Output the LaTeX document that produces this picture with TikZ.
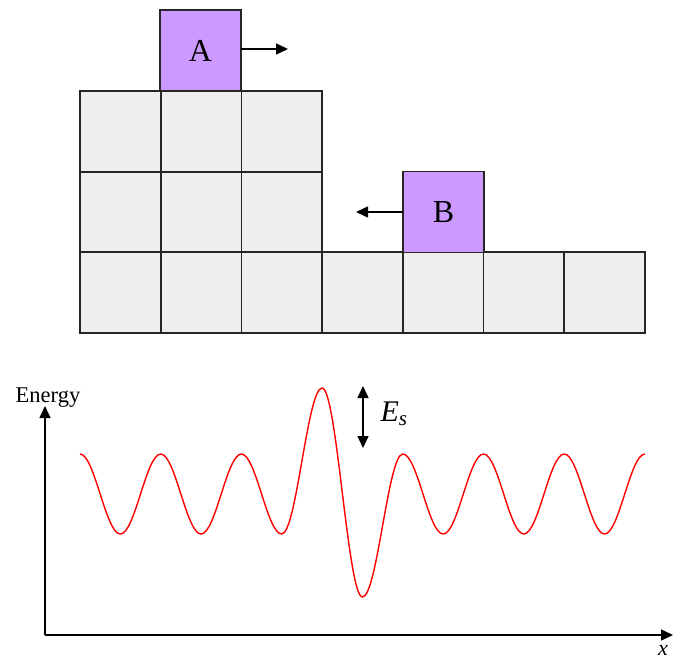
\documentclass[tikz,border=0pt]{standalone}
\usepackage{fontspec}
\setmainfont{Liberation Serif}
\usetikzlibrary{arrows.meta}
\definecolor{cellgray}{HTML}{EEEEEE}
\definecolor{atompurple}{HTML}{CC99FF}
\tikzset{
  cell/.style={fill=cellgray, minimum width=80.7pt, minimum height=80.7pt, inner sep=0pt, outer sep=0pt},
  atom/.style={cell, draw=black!85, line width=1.6pt, fill=atompurple, font=\fontsize{32}{36}\selectfont},
  gridline/.style={draw=black!85, line width=1.6pt},
  movearrow/.style={line width=1.5pt, -{Triangle[length=12pt,width=11pt]}},
  axis/.style={line width=1.5pt, -{Triangle[length=12pt,width=11pt]}},
  wave/.style={red, line width=1.4pt},
}
\begin{document}
\begin{tikzpicture}[x=1pt,y=-1pt]
\useasboundingbox (0,0) rectangle (674,659);
% upper block: two rows of three cells
\foreach \i in {0,1,2}{
  \node[cell] (u1\i) at ({80+80.7*(\i+0.5)},131.5) {};
  \node[cell] (u2\i) at ({80+80.7*(\i+0.5)},212) {};
}
% bottom row: seven cells
\foreach \i in {0,...,6}{
  \node[cell] (b\i) at ({80+80.7*(\i+0.5)},292.5) {};
}
% cell borders
\foreach \n in {u10,u11,u12,u20,u21,u22,b0,b1,b2,b3,b4,b5,b6}{
  \draw[gridline] (\n.south west) rectangle (\n.north east);
}
% adatoms
\node[atom] (A) at (200.5,50.5) {A};
\node[atom] (B) at (443.5,212) {B};
\coordinate (aend) at (288,49);
\coordinate (bend) at (356,212);
\draw[movearrow] (A.east |- aend) -- (aend);
\draw[movearrow] (B.west) -- (bend);
% energy axes
\coordinate (origin) at (45,635);
\coordinate (ytop) at (45,406);
\coordinate (xend) at (673,635);
\draw[axis] (origin) -- (ytop);
\draw[axis] (origin) -- (xend);
\node[font=\fontsize{22.5}{26}\selectfont] (elabel) at (48,398) {Energy};
\node[font=\fontsize{22}{26}\selectfont\itshape, anchor=east, inner sep=1pt] (xlabel) at (669,650) {x};
% energy profile (half-cosine segments between extrema)
\draw[wave] (80,454)
  foreach \xa/\ya/\xb/\yb in {
    80/454/120.35/534, 120.35/534/160.7/454, 160.7/454/201.05/534,
    201.05/534/241.4/454, 241.4/454/281.75/534, 281.75/534/322.1/388,
    322.1/388/362.45/597, 362.45/597/402.8/454, 402.8/454/443.15/534,
    443.15/534/483.5/454, 483.5/454/523.85/534, 523.85/534/564.2/454,
    564.2/454/604.55/534, 604.55/534/644.9/454}
  { .. controls ({\xa+14.66},\ya) and ({\xb-14.66},\yb) .. (\xb,\yb) };
% barrier height arrow
\coordinate (estop) at (363,386);
\coordinate (esbot) at (363,448);
\draw[line width=1.5pt, {Triangle[length=12pt,width=11pt]}-{Triangle[length=12pt,width=11pt]}] (estop) -- (esbot);
\node[font=\fontsize{30}{34}\selectfont\itshape] (es) at (394,414) {E\textsubscript{s}};
\end{tikzpicture}
\end{document}
